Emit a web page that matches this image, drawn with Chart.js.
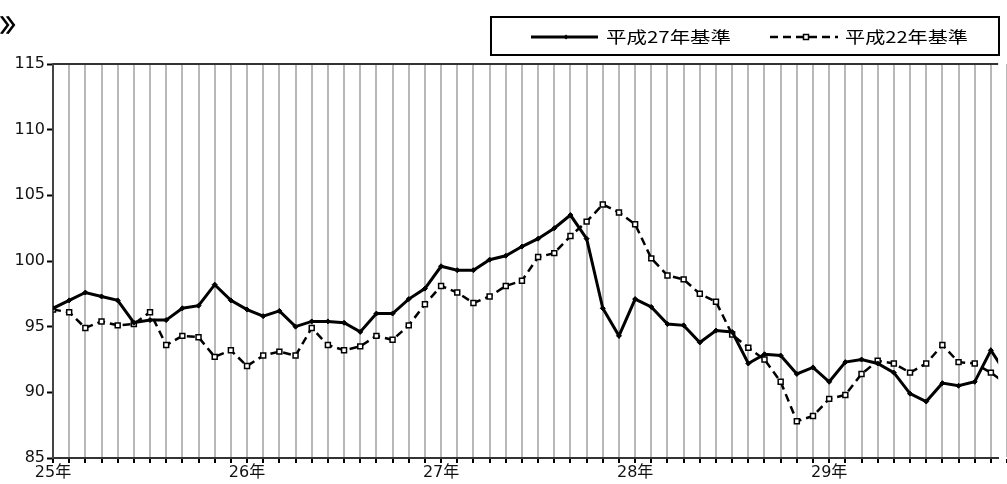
<!DOCTYPE html>
<html>
<head>
<meta charset="utf-8">
<script src="https://cdn.jsdelivr.net/npm/chart.js@4"></script>
<style>
  html, body { margin: 0; padding: 0; background: #fff; overflow: hidden; }
  #wrap { width: 1007px; height: 484px; position: relative; }
</style>
</head>
<body>
<div id="wrap"><canvas id="lineChart"></canvas></div>
<script>
// year labels shown under every 12th month
var yearLabels = ['25年', '26年', '27年', '28年', '29年'];
var seriesNames = ['平成27年基準', '平成22年基準'];

// monthly index, 25年1月 .. 29年12月
var base27 = [
    96.4, 97.0, 97.6, 97.3, 97.0, 95.3, 95.5, 95.5, 96.4, 96.6, 98.2, 97.0,
    96.3, 95.8, 96.2, 95.0, 95.4, 95.4, 95.3, 94.6, 96.0, 96.0, 97.1, 97.9,
    99.6, 99.3, 99.3, 100.1, 100.4, 101.1, 101.7, 102.5, 103.5, 101.7, 96.4, 94.3,
    97.1, 96.5, 95.2, 95.1, 93.8, 94.7, 94.6, 92.2, 92.9, 92.8, 91.4, 91.9,
    90.8, 92.3, 92.5, 92.2, 91.5, 89.9, 89.3, 90.7, 90.5, 90.8, 93.2, 91.3
];
var base22 = [
    96.3, 96.1, 94.9, 95.4, 95.1, 95.2, 96.1, 93.6, 94.3, 94.2, 92.7, 93.2,
    92.0, 92.8, 93.1, 92.8, 94.9, 93.6, 93.2, 93.5, 94.3, 94.0, 95.1, 96.7,
    98.1, 97.6, 96.8, 97.3, 98.1, 98.5, 100.3, 100.6, 101.9, 103.0, 104.3, 103.7,
    102.8, 100.2, 98.9, 98.6, 97.5, 96.9, 94.4, 93.4, 92.5, 90.8, 87.8, 88.2,
    89.5, 89.8, 91.4, 92.4, 92.2, 91.5, 92.2, 93.6, 92.3, 92.2, 91.5, 90.6
];

var months = base27.map(function(v, i) { return i; });

function toPoints(values) {
    return values.map(function(v, i) { return { x: i, y: v }; });
}

var CJK = "'Noto Sans CJK JP', sans-serif";
var NUM = "'DejaVu Sans', 'Noto Sans CJK JP', sans-serif";

// text stretched to a given width (the original uses a wide font)
function wideText(ctx, text, x, y, width) {
    var w = ctx.measureText(text).width;
    ctx.save();
    ctx.translate(x, y);
    ctx.scale(width / w, 1);
    ctx.fillText(text, 0, 0);
    ctx.restore();
}

// frame line on top, legend box and the cut title glyph
var decorations = {
    id: 'decorations',
    afterDraw: function(chart) {
        var ctx = chart.ctx;
        var area = chart.chartArea;
        ctx.save();
        ctx.strokeStyle = '#333';
        ctx.lineWidth = 2;
        ctx.beginPath();
        ctx.moveTo(area.left, area.top);
        ctx.lineTo(area.right, area.top);
        ctx.stroke();

        // title fragment
        ctx.fillStyle = '#000';
        ctx.font = 'bold 19px ' + CJK;
        ctx.textBaseline = 'middle';
        ctx.textAlign = 'left';
        wideText(ctx, '》', -1, 26, 34);

        // legend box
        ctx.strokeStyle = '#000';
        ctx.lineWidth = 2;
        ctx.strokeRect(491, 17, 508, 38);

        var y = 37;
        ctx.font = '16px ' + CJK;
        ctx.textBaseline = 'middle';

        ctx.setLineDash([]);
        ctx.lineWidth = 3;
        ctx.beginPath();
        ctx.moveTo(531, y);
        ctx.lineTo(598, y);
        ctx.stroke();
        ctx.beginPath();
        ctx.moveTo(566, y - 2.5); ctx.lineTo(568.5, y); ctx.lineTo(566, y + 2.5); ctx.lineTo(563.5, y);
        ctx.closePath();
        ctx.fill();
        wideText(ctx, seriesNames[0], 606, y, 125);

        ctx.lineWidth = 2.5;
        ctx.setLineDash([8, 5]);
        ctx.beginPath();
        ctx.moveTo(770, y);
        ctx.lineTo(838, y);
        ctx.stroke();
        ctx.setLineDash([]);
        ctx.fillStyle = '#fff';
        ctx.lineWidth = 1.5;
        ctx.fillRect(803.5, y - 2.5, 5, 5);
        ctx.strokeRect(803.5, y - 2.5, 5, 5);
        ctx.fillStyle = '#000';
        wideText(ctx, seriesNames[1], 845, y, 123);
        ctx.restore();
    }
};

var ctx = document.getElementById('lineChart').getContext('2d');
var lineChart = new Chart(ctx, {
    type: 'line',
    data: {
        datasets: [
            {
                label: seriesNames[0],
                data: toPoints(base27),
                borderColor: '#000',
                borderWidth: 3,
                backgroundColor: '#000',
                pointStyle: 'rectRot',
                pointRadius: 2.5,
                pointBorderWidth: 1,
                tension: 0,
                fill: false
            },
            {
                label: seriesNames[1],
                data: toPoints(base22),
                borderColor: '#000',
                borderWidth: 2.5,
                borderDash: [8, 5],
                backgroundColor: '#fff',
                pointStyle: 'rect',
                pointRadius: 3.5,
                pointBorderWidth: 1.5,
                pointBorderColor: '#000',
                pointBackgroundColor: '#fff',
                tension: 0,
                fill: false
            }
        ]
    },
    options: {
        responsive: true,
        maintainAspectRatio: false,
        animation: false,
        layout: { padding: { top: 64, right: 0, bottom: 0, left: 0 } },
        plugins: {
            legend: { display: false },
            tooltip: { enabled: false }
        },
        scales: {
            x: {
                type: 'linear',
                min: 0,
                max: 58.45,
                afterBuildTicks: function(scale) {
                    scale.ticks = months.map(function(i) { return { value: i }; });
                },
                afterFit: function(scale) { scale.height = 26; },
                ticks: {
                    autoSkip: false,
                    maxRotation: 0,
                    minRotation: 0,
                    padding: 0,
                    color: '#111',
                    font: { family: NUM, size: 16 },
                    callback: function(value) {
                        return value % 12 === 0 ? yearLabels[value / 12] : '';
                    }
                },
                grid: {
                    color: '#b8b8b8',
                    lineWidth: 2,
                    tickColor: '#000',
                    tickLength: 5,
                    tickWidth: 2
                },
                border: { color: '#333', width: 2 }
            },
            y: {
                min: 85,
                max: 115,
                afterFit: function(scale) { scale.width = 53; },
                ticks: {
                    stepSize: 5,
                    padding: 2,
                    color: '#111',
                    font: { family: NUM, size: 16 }
                },
                grid: {
                    drawOnChartArea: false,
                    tickColor: '#000',
                    tickLength: 6,
                    tickWidth: 2
                },
                border: { color: '#444', width: 2 }
            }
        }
    },
    plugins: [decorations]
});
</script>
</body>
</html>
